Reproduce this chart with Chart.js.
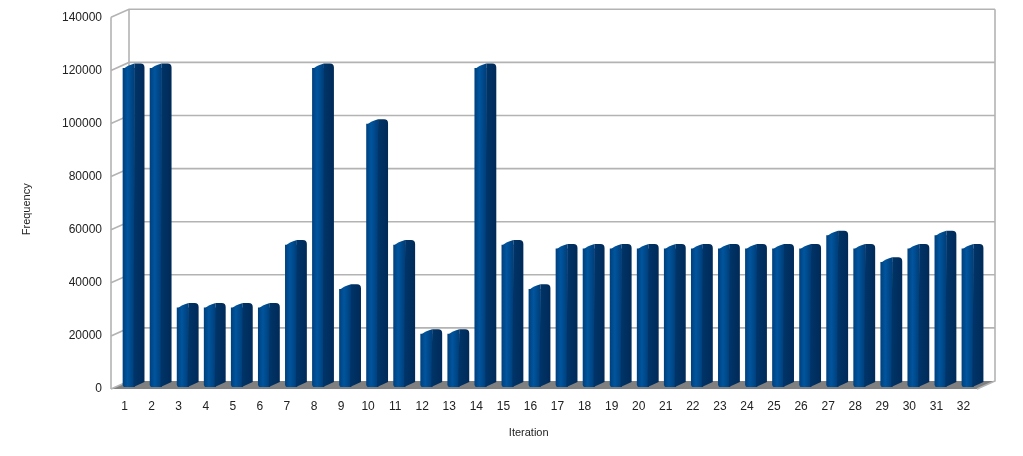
<!DOCTYPE html>
<html><head><meta charset="utf-8">
<style>html,body{margin:0;padding:0;background:#fff}#w{width:1023px;height:456px}</style>
<script src="https://cdn.jsdelivr.net/npm/chart.js@4/dist/chart.umd.min.js"></script>
</head><body><div id="w"><canvas id="c" width="1023" height="456"></canvas></div>
<script>
const categories = ['1','2','3','4','5','6','7','8','9','10','11','12','13','14','15','16','17','18','19','20','21','22','23','24','25','26','27','28','29','30','31','32'];
const frequency = [120000,120000,29800,29800,29800,29800,53500,120000,36800,99000,53500,19900,19900,120000,53500,36800,52000,52000,52000,52000,52000,52000,52000,52000,52000,52000,57000,52000,47000,52000,57000,52000];
const DX=18, DY=8, SHIFT=4.2, SIDE=10, RISE=5;
const FONT='"Liberation Sans", Arial, sans-serif';
function frontFill(ctx,x0,x1){
  const g=ctx.createLinearGradient(x0,0,x1,0);
  g.addColorStop(0,'#00417f');g.addColorStop(.4,'#00559e');g.addColorStop(1,'#003d78');
  return g;
}
const wall={
  id:'wall',
  beforeDatasetsDraw(ch){
    const {ctx,chartArea:a,scales:{y}}=ch;
    ctx.save();
    ctx.fillStyle='#808080';
    ctx.beginPath();ctx.moveTo(a.left,a.bottom);ctx.lineTo(a.right,a.bottom);ctx.lineTo(a.right+DX,a.bottom-DY);ctx.lineTo(a.left+DX,a.bottom-DY);ctx.closePath();ctx.fill();
    ctx.strokeStyle='#b3b3b3';ctx.lineWidth=1.6;
    y.ticks.forEach((t,i)=>{
      const p=y.getPixelForTick(i);
      ctx.beginPath();ctx.moveTo(a.left,p);ctx.lineTo(a.left+DX,p-DY);
      if(i>0)ctx.lineTo(a.right+DX,p-DY);
      ctx.stroke();
    });
    ctx.beginPath();ctx.moveTo(a.left,a.top);ctx.lineTo(a.left,a.bottom);ctx.stroke();
    ctx.beginPath();ctx.moveTo(a.left+DX,a.top-DY);ctx.lineTo(a.left+DX,a.bottom-DY);ctx.stroke();
    ctx.beginPath();ctx.moveTo(a.right+DX,a.top-DY);ctx.lineTo(a.right+DX,a.bottom-DY);ctx.lineTo(a.right,a.bottom);ctx.stroke();
    ctx.restore();
    ctx.save();ctx.translate(SHIFT,-2);
  },
  afterDatasetsDraw(ch){
    const {ctx}=ch;
    ch.getDatasetMeta(0).data.forEach(b=>{
      const x0=b.x-b.width/2,x1=b.x+b.width/2,t=b.y,bs=b.base;
      ctx.fillStyle=frontFill(ctx,x0,x1);
      ctx.beginPath();ctx.moveTo(x0,t+1);ctx.quadraticCurveTo(x0+3.5,t-3,x1,t-RISE);ctx.lineTo(x1,t+1);ctx.closePath();ctx.fill();
      const s=ctx.createLinearGradient(x1,0,x1+SIDE,0);
      s.addColorStop(0,'#003468');s.addColorStop(1,'#002a58');
      ctx.fillStyle=s;
      ctx.beginPath();ctx.moveTo(x1,t-RISE);ctx.lineTo(x1+SIDE-4,t-RISE);ctx.quadraticCurveTo(x1+SIDE,t-RISE,x1+SIDE,t-RISE+4);
      ctx.lineTo(x1+SIDE,bs-RISE);ctx.lineTo(x1-1,bs);ctx.lineTo(x1,t);ctx.closePath();ctx.fill();
    });
    ctx.restore();
  }
};
new Chart(document.getElementById('c'),{
  type:'bar',
  data:{labels:categories,datasets:[{label:'Frequency',data:frequency,categoryPercentage:1,barThickness:11.5,
    borderSkipped:false,borderWidth:0,borderRadius:{topLeft:0,topRight:0,bottomLeft:3,bottomRight:0},
    backgroundColor(c){
      const ch=c.chart; if(!ch.chartArea||!ch.scales.x) return '#004586';
      const p=ch.scales.x.getPixelForValue(c.dataIndex);
      return frontFill(ch.ctx,p-5.75,p+5.75);
    }}]},
  plugins:[wall],
  options:{responsive:false,animation:false,devicePixelRatio:1,
    layout:{padding:{top:17.3,right:46,bottom:0,left:0}},
    plugins:{legend:{display:false},title:{display:false},tooltip:{enabled:false}},
    scales:{
      x:{offset:true,grid:{display:false},border:{display:false},
        ticks:{color:'#222',font:{family:FONT,size:12},padding:2,maxRotation:0,autoSkip:false},
        title:{display:true,text:'Iteration          ',color:'#222',font:{family:FONT,size:11},padding:{top:14,bottom:16}},
        afterFit(s){s.height=67}},
      y:{min:0,max:140000,grid:{display:false},border:{display:false},
        ticks:{stepSize:20000,color:'#222',font:{family:FONT,size:12},padding:1,callback:v=>String(v)},
        title:{display:true,text:'Frequency    ',color:'#222',font:{family:FONT,size:11},padding:{top:20,bottom:0}},
        afterFit(s){s.width=111}}
    }
  }
});
</script></body></html>
